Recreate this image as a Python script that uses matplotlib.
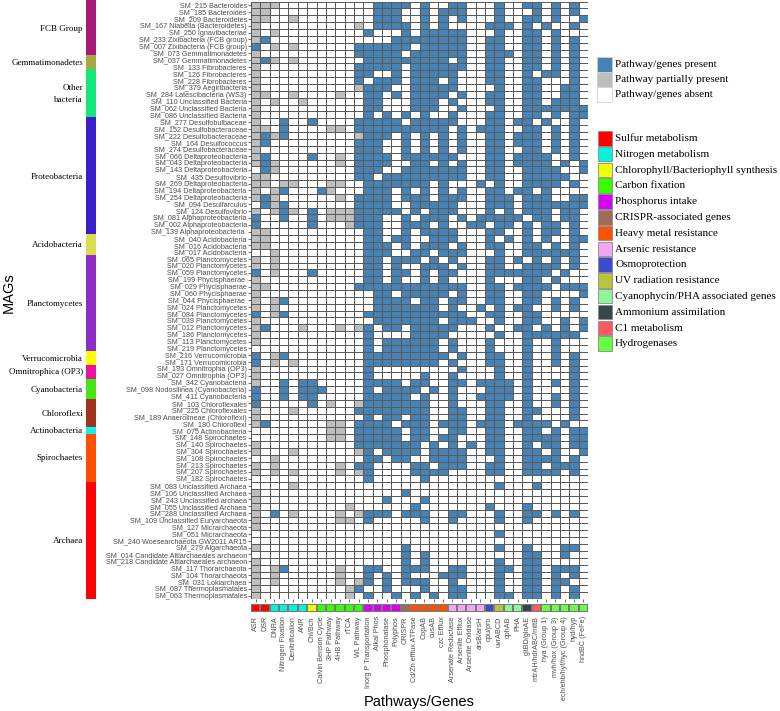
import numpy as np
import matplotlib
matplotlib.use('Agg')
import matplotlib.pyplot as plt
from matplotlib.colors import ListedColormap
from matplotlib.patches import Rectangle

# --- data ---
mags = [
    'SM_215 Bacteroides', 'SM_185 Bacteroides', 'SM_209 Bacteroidetes',
    'SM_167 Niabella (Bacteroidetes)', 'SM_250 Ignavibacteriae',
    'SM_233 Zixibacteria (FCB group)', 'SM_007 Zixibacteria (FCB group)',
    'SM_073 Gemmatimonadetes', 'SM_037 Gemmatimonadetes', 'SM_133 Fibrobacteres',
    'SM_126 Fibrobacteres', 'SM_228 Fibrobacteres', 'SM_379 Aegiribacteria',
    'SM_284 Latescibacteria (WS3)', 'SM_110 Unclassified Bacteria',
    'SM_062 Unclassified Bacteria', 'SM_086 Unclassified Bacteria',
    'SM_277 Desulfobulbaceae', 'SM_152 Desulfobacteraceae', 'SM_222 Desulfobacteraceae',
    'SM_164 Desulfococcus', 'SM_274 Desulfobacteraceae', 'SM_066 Deltaproteobacteria',
    'SM_043 Deltaproteobacteria', 'SM_143 Deltaproteobacteria', 'SM_435 Desulfovibrio',
    'SM_269 Deltaproteobacteria', 'SM_194 Deltaproteobacteria', 'SM_254 Deltaproteobacteria',
    'SM_094 Desulfarculus', 'SM_124 Desulfovibrio', 'SM_081 Alphaproteobacteria',
    'SM_002 Alphaproteobacteria', 'SM_139 Alphaproteobacteria ', 'SM_040 Acidobacteria',
    'SM_016 Acidobacteria', 'SM_017 Acidobacteria', 'SM_065 Planctomycetes',
    'SM_020 Planctomycetes', 'SM_059 Planctomycetes', 'SM_199 Phycisphaerae ',
    'SM_029 Phycisphaerae', 'SM_060 Phycisphaerae', 'SM_044 Phycisphaerae ',
    'SM_024 Planctomycetes', 'SM_084 Planctomycetes', 'SM_039 Planctomycetes',
    'SM_012 Planctomycetes', 'SM_186 Planctomycetes', 'SM_113 Planctomycetes',
    'SM_219 Planctomycetes', 'SM_216 Verrucomicrobia', 'SM_171 Verrucomicrobia',
    'SM_193 Omnitrophia (OP3)', 'SM_027 Omnitrophia (OP3)', 'SM_342 Cyanobacteria',
    'SM_098 Nodosilinea (Cyanobacteria)', 'SM_411 Cyanobacteria', 'SM_103 Chloroflexales',
    'SM_225 Chloroflexales', 'SM_189 Anaerolineae (Chloroflexi)', 'SM_180 Chloroflexi',
    'SM_075 Actinobacteria', 'SM_148 Spirochaetes', 'SM_140 Spirochaetes',
    'SM_304 Spirochaetes', 'SM_108 Spirochaetes', 'SM_213 Spirochaetes',
    'SM_207 Spirochaetes', 'SM_182 Spirochaetes', 'SM_083 Unclassified Archaea',
    'SM_106 Unclassified Archaea', 'SM_243 Unclassified archaea', 'SM_055 Unclassified Archaea',
    'SM_288 Unclassified Archaea', 'SM_109 Unclassified Euryarchaeota', 'SM_127 Micrarchaeota',
    'SM_051 Micrarchaeota', 'SM_240 Woesearchaeota GW2011 AR15', 'SM_279 Aigarchaeota',
    'SM_014 Candidate Altiarchaeales archaeon', 'SM_218 Candidate Altiarchaeales archaeon',
    'SM_117 Thorarchaeota', 'SM_104 Thorarchaeota', 'SM_031 Lokiarchaea',
    'SM_087 Thermoplasmatales', 'SM_063 Thermoplasmatales',
]

pathways = [
    'ASR', 'DSR', 'DNRA', 'Nitrogen Fixation', 'Denitrification', 'ANR', 'Chl/Bch',
    'Calvin Benson Cycle', '3HP Pathway', '4HB Pathway', 'rTCA', 'WL Pathway',
    'Inorg P Transportation', 'Alkal Phos', 'Phosphonatase', 'Polyphos', 'CRISPR',
    'Cd/Zn efflux ATPase', 'CopAB', 'cusAB', 'czc Efflux', 'Arsenate Reductase',
    'Arsenite Efflux', 'Arsenite Oxidase', 'arsB/arsH', 'opu/pro', 'uvrABCD', 'cphAB',
    'PHA', 'gltBD/glnAE', 'mtrAH/hdrABC/mttB', 'hya (Group 1)', 'mvh/hox (Group 3)',
    'ech/ehb/hyf/hyc (Group 4)', 'hyd/hyp', 'hndBC (FeFe)',
]

categories = [
    'Sulfur metabolism', 'Nitrogen metabolism', 'Chlorophyll/Bacteriophyll synthesis',
    'Carbon fixation', 'Phosphorus intake', 'CRISPR-associated genes',
    'Heavy metal resistance', 'Arsenic resistance', 'Osmoprotection',
    'UV radiation resistance', 'Cyanophycin/PHA associated genes',
    'Ammonium assimilation', 'C1 metabolism', 'Hydrogenases',
]
cat_colors = ['#ff0000', '#00f5dc', '#eeff00', '#33ff00', '#d600f2', '#a06c58',
              '#ff5200', '#f2a8f0', '#3c4ccc', '#b8c43c', '#8ef59a', '#384848',
              '#ff5a64', '#66ff44']
cat_sizes = [2, 4, 1, 5, 4, 1, 4, 4, 1, 1, 2, 1, 1, 5]

groups = ['FCB Group', 'Gemmatimonadetes', 'Other\nbacteria', 'Proteobacteria',
          'Acidobacteria', 'Planctomycetes', 'Verrucomicrobia', 'Omnitrophica (OP3)',
          'Cyanobacteria', 'Chloroflexi', 'Actinobacteria', 'Spirochaetes', 'Archaea']
group_sizes = [8, 2, 7, 17, 3, 14, 2, 2, 3, 4, 1, 7, 17]
group_colors = ['#a8177a', '#a9a83c', '#14e67a', '#3a1ecb', '#dcdc50', '#8c2dc8',
                '#ffff00', '#e614a0', '#46e614', '#a0321e', '#14f0f0', '#ff5000', '#ff0000']

# b = present, g = partially present, . = absent
status_rows = [
    "g g g . . . . . . . . . . b b b b . b . . b b . . . b . . b b . b . b .",
    "g g . . . . . . . . . . . b b b . . b . b b b . . . b . . . b . b . b .",
    "g g . . g . . . . . . . . b b b . . b . b . b . . . b . . b b . b . . b",
    "g . . . . . . . . . . g . b b b b . b . b . . . . b b b . b . b . . b .",
    "g . g . . . . . . . . . b . . . b . b b b b b . . . b . . b b . b . . .",
    "g b . . . . . . . . . . . . . b b b b b b b b . . b b . . b b . b . b .",
    "b . g . g . . . . . . b b b b b b . b b b b b . . b b . . b b . b . b .",
    "g . . . . . . . . . . b b b b b . b b b b b b . . b b b . b b . b . b .",
    "g b g . g . . . . . . . b b b b b b b b b . b . . b b . . b b . b . b .",
    "g . . . . . . . . . . b b b b b . b b b b b b . . b b . . b b . b . b .",
    "g . . . . . . . . . . b b . . b . b b b b b . . . b b . . b . b b . b .",
    "g . . . . . . . . . . b . b b b . b b b . b . . . b b . . b b . . . b .",
    "g . . . . . . . . . . g b b b . . b b b b b . . . . b . . b b . . b b .",
    "g g . . g . . . . g . . b b . b . b b b b . b . . b b . . b b . . b b .",
    "g . g . . g . . . . . . b b . . . b b b . b . . . b b . . b b . b b b .",
    "g . . . . . . . . . . . b b . . . b b b . . b . . . b . . b b b b b b b",
    "g . . . . . . . . . . . b . b . b . b . . b . . . b b . . b b . b . b b",
    "g . . b . . b . . . . b b b b b . b b b b b . . . b b . b b . b . . b .",
    "g g . b . . . . g g . b b b b b b b b b b . b . b b b . . b b . b . b .",
    "g b g b . . . . . . . g b b b . b . b . b . b . . b b . b b b . b . b .",
    "g b . . . . . . . . . b b b . . b . b . b . b . . b b . b b b . b . b .",
    "g . . . . . . . . . . b b b . . b . b . b . b . . b b . . b b . b . b .",
    "g b . . . . b . . g . b b b b . b b b b b b . . . b b . b b b b . . b .",
    "g b g . . . . . . g . b b b b . . b b . b . b . . b b . b b b b . b . b",
    ". b g . . . . . . . . b b b . . b b b b b b b . . b b . . b b b b . . b",
    "g g . . . . . . . . . b b . b b b b b b b b b . . b b . . b b b b b . .",
    "g g . g g . . . g g . . b b b b b b b . b . . . b . b . . b b b b . b .",
    "g . g b . . . b g . . . b b b . b . b . b . b . . b b . b b . b . . . .",
    "g b g . . . . . . g . b b b b . b b b . b b b . . b b b . b b b . . b b",
    ". b g b . . . . . . . b b b b . . b b b b b . . . b b b . b b b b b b b",
    "g . g b g . b . g g g b b b b b . b . b b b . . . b . b . b b b . b b .",
    "b . . b . . b . g g g b b b . . b . b b b . b . b b b b b . b b . b b .",
    "b . . . . . b . . . g b b b . . b b b . b . . b b . b b . b . b b . b .",
    "g g . . . . . . . . . . b b . . b . b b b b . . . b b . . b . b b . b .",
    "g g . . . . . . . . . . b b . b b . . b b b . . . b . b . b . b . . b b",
    "g g . . . . . . . . . . b b b . b . b b b . b . . b b . . b b . b . b .",
    ". . g . . . . . . . . . b b b . . b b . b b b . . . b . . b b b b b b .",
    "g . g . . . . . . . . . b b . b b b . b . b . . . b b . b . b . b . b .",
    "g . g . . . . . . . . . b b . b . . b b b . b . . b b . . b b b b . b .",
    "b . g . . . b . . . . . b b . b b . b . b b . . . b b b b b b b . b . .",
    "g . . . . . . . . . . . b b . b . . b . b . . . . b . . . b b . b . . .",
    "g g . . . . . . . . . b b b b b b b b b b b b . . b b . b b b b . b b b",
    "g . . . . . . . . . . . . b b . b b b b b . b . . b b . . b b . . . . b",
    "g . g b . . . . . . . . . b b b b . b b . b b . . b b . . b b . b . b .",
    "g . g . . . . . . . . . . b b b b b b b . b . . b . b . b b . . b . b .",
    "b . g b . . . . . . . . b b b b b b b b b b b . . b b . . b b . . . . .",
    "g . . . . . . . . . . . . b b b b b b b . b b b . . b . . b b . . b . b",
    "g b . . . g . . . g . g b . b b . b b b b b . . . b . . b b . b . b . b",
    "g . . . . . . . . . . . b . . . . b b b b . . . . . b . . b b b b b b .",
    "g . . . . . . . . . . . b . b b b b b b . b . . . b . . . b . . b . . .",
    ". . . . . . . . . . . . b . b b b b b b . b . . . b . . . b . . b . . .",
    "b . g b . . . . . . . . b b b b b b b b b . b . . b b . . b . . b . b .",
    "b . g . g . . . . . . . b b b b b b b b . b . . . b b . . b . . b . b .",
    "g . . . . . . . . . . . b . . . . . . . . . b . . . b . . b . . . . b .",
    "g . . . . . . . . . . . b . . . . . b . . b . . . . b . . b . . . . b .",
    "g . . b . b b . . . . . b b b b . b b . . b b . b b b b . b . . b . b .",
    "b . . b . b b b . . . . b . b b b b . b . b . . . b b b . b . . . . b .",
    "b . . b . b b . . . . . b b b b b . b . . b . . b b b b . b . . b . b .",
    "b . . . . . b . g . . g b b b b b b b . . b . . . b b . . b . . b . b .",
    "g . . . g . . . . . . b b b b b b b b . . b b . . b b . . b b . . . b .",
    "g . . . . . . . . . . . b . b b . b b . . b b . . b b . . b . . . . b .",
    "g b . . . . . . g g . b b b b . b b b . b b b . b b b . b b b b . b . .",
    ". . . . . . . . g g . b b b b b . b b . . b b . . b b . . b b . b . b b",
    ". . . . . . . . g g . b b b b b . b b . b b . . . b b . . b b b b . b b",
    "g . . . . . . . . . . b b b b b b b . b . b . b . b b . . b . b b . b b",
    "g . . . g . . . . . . g b . b b b b . b b b b . . b b . . b b . b . . b",
    ". . g . . . . . . . . . b b . b b . . b b b b . . . b . . b b b b . b .",
    "g . g . . . . . . g . b b . . . . b b . b b b . . b b . . b b . b b b .",
    "g . g . g . . . . g . g b . . . . b b b b . . . . b b . . b b b b . b .",
    ". . . . . . . . . . . . b . . . . . b . . . . . . . . . . . . . . . . .",
    ". . . . g . . . . . . . . . . . . . . . . . . . . . b . . . b . . . . .",
    "g . . . . . . . . . . . . . . . b . . . . . . . . . . . . . . . . . . .",
    "g . . . . . . . . . . . . . b . . . b . . . . . . . . . . . . . . . . .",
    "g . . . . . . . . . g . . . . . . b . . . . . . . b . . . b . . . . . .",
    "g . b . g . . . . g . g b b b . b b b . . b b . . . b . . b b . b . b .",
    "g . . . . . . . . g g . b . . . . . b . . b . . . . b . . b . . . . . .",
    "g . . . . . . . . . . . . . . . . . . . . . . . . . . . . . . . . . . .",
    ". . . . . . . . . . . . . . . . . . . . . . . . . . b . . . . . . . . .",
    ". . . . . . . . . . . . . . . . . . . . . . . . . . . . . . . . . . . .",
    "g . . . . . . . . . . . . . . . b . . . . . . . . . b . . b . . . b b .",
    ". . . . . . . . . . . . . . . . b . b . . . . . . . . . . b b . . b . .",
    "g . . . . . . . . . . . . . . . b . b . . . . . . . b . . b b . . . . .",
    "g . g b . . . . . g . . b b . . b b b . . b b . . . b b . b b . b b b .",
    "g . g . . . . . . g . . b . b . b . . . b b b . . . b . . b b . b . b .",
    "g . g . . . . . . g . g b . b . b b b . . b . . . . b . . b b . b b . .",
    "g . . . . . . . . . g b . . b . . . b . . b b . . . b . . b b . b . b .",
    "g . . . . . . . . . g . b . . b . b . b . b b . . . b b . b b . b . b .",
]

code = {'.': 0, 'g': 1, 'b': 2}
mat = []
for r in status_rows:
    vals = [code[c] for c in r.split()]
    vals = (vals + [0] * 36)[:36]
    mat.append(vals)
mat = np.array(mat)

W, H = 780, 711


def box(x0, y0, x1, y1):
    return [x0 / W, 1 - y1 / H, (x1 - x0) / W, (y1 - y0) / H]


fig = plt.figure(figsize=(W / 100, H / 100), dpi=100)
sans = 'Liberation Sans'
serif = 'Liberation Serif'
row_h = (599 - 1.6) / len(mags)

# heatmap
ax = fig.add_axes(box(251, 1.6, 588, 599))
cmap = ListedColormap(['white', '#bebebe', '#4682b4'])
ax.pcolormesh(mat, cmap=cmap, vmin=-0.5, vmax=2.5, edgecolors='#5a5a5a', linewidth=0.45)
ax.set_xlim(0, len(pathways))
ax.set_ylim(len(mags), 0)
ax.set_yticks(np.arange(len(mags)) + 0.5)
ax.set_yticklabels(mags, fontsize=5.2, color='#4d4d4d', family=sans)
ax.set_xticks(np.arange(len(pathways)) + 0.5)
ax.set_xticklabels([])
ax.tick_params(length=2, width=0.5, color='#333333', pad=1)
for s in ax.spines.values():
    s.set_visible(False)

# category colour strip under the columns
cat_idx = np.repeat(np.arange(len(categories)), cat_sizes)
cax = fig.add_axes(box(251, 604, 588, 612))
cax.pcolormesh(cat_idx[None, :], cmap=ListedColormap(cat_colors),
               vmin=-0.5, vmax=len(categories) - 0.5, edgecolors='#7a7a7a', linewidth=0.3)
cax.set_xlim(0, len(pathways))
cax.set_xticks(np.arange(len(pathways)) + 0.5)
cax.set_xticklabels(pathways, rotation=90, fontsize=5.2, color='#4d4d4d', family=sans)
cax.set_yticks([])
cax.tick_params(length=0, pad=3)
for s in cax.spines.values():
    s.set_visible(False)

# taxonomic group bar on the left
gax = fig.add_axes(box(86, 0, 96, 599))
gax.set_xlim(0, 1)
gax.set_ylim(len(mags), 0)
gax.axis('off')
start = 0
for name, n, col in zip(groups, group_sizes, group_colors):
    gax.add_patch(Rectangle((0, start), 1, n, facecolor=col, edgecolor='none'))
    fig.text(83 / W, 1 - (1.6 + (start + n / 2) * row_h) / H, name, ha='right',
             va='center', fontsize=6.5, family=serif, linespacing=1.6)
    start += n

fig.text(9 / W, 1 - 293 / H, 'MAGs', rotation=90, ha='center', va='center',
         fontsize=10.5, family=sans)
fig.text(419 / W, 1 - 702 / H, 'Pathways/Genes', ha='center', va='center',
         fontsize=10.5, family=sans)

# legends
status_labels = ['Pathway/genes present', 'Pathway partially present', 'Pathway/genes absent']
status_colors = ['#4682b4', '#bebebe', 'white']
for i, (lab, col) in enumerate(zip(status_labels, status_colors)):
    y0 = 57 + i * 15
    fig.patches.append(Rectangle((597 / W, 1 - (y0 + 15) / H), 15 / W, 15 / H,
                                 facecolor=col, edgecolor='#d0d0d0', lw=0.6,
                                 transform=fig.transFigure))
    fig.text(615 / W, 1 - (y0 + 7.5) / H, lab, va='center', fontsize=8, family=serif)

for i, (lab, col) in enumerate(zip(categories, cat_colors)):
    y0 = 131 + i * 15.8
    fig.patches.append(Rectangle((598 / W, 1 - (y0 + 14.5) / H), 14 / W, 14.5 / H,
                                 facecolor=col, edgecolor='#8a8a8a', lw=0.6,
                                 transform=fig.transFigure))
    fig.text(615 / W, 1 - (y0 + 7.5) / H, lab, va='center', fontsize=8, family=serif)

fig.savefig('out.png', dpi=100)
